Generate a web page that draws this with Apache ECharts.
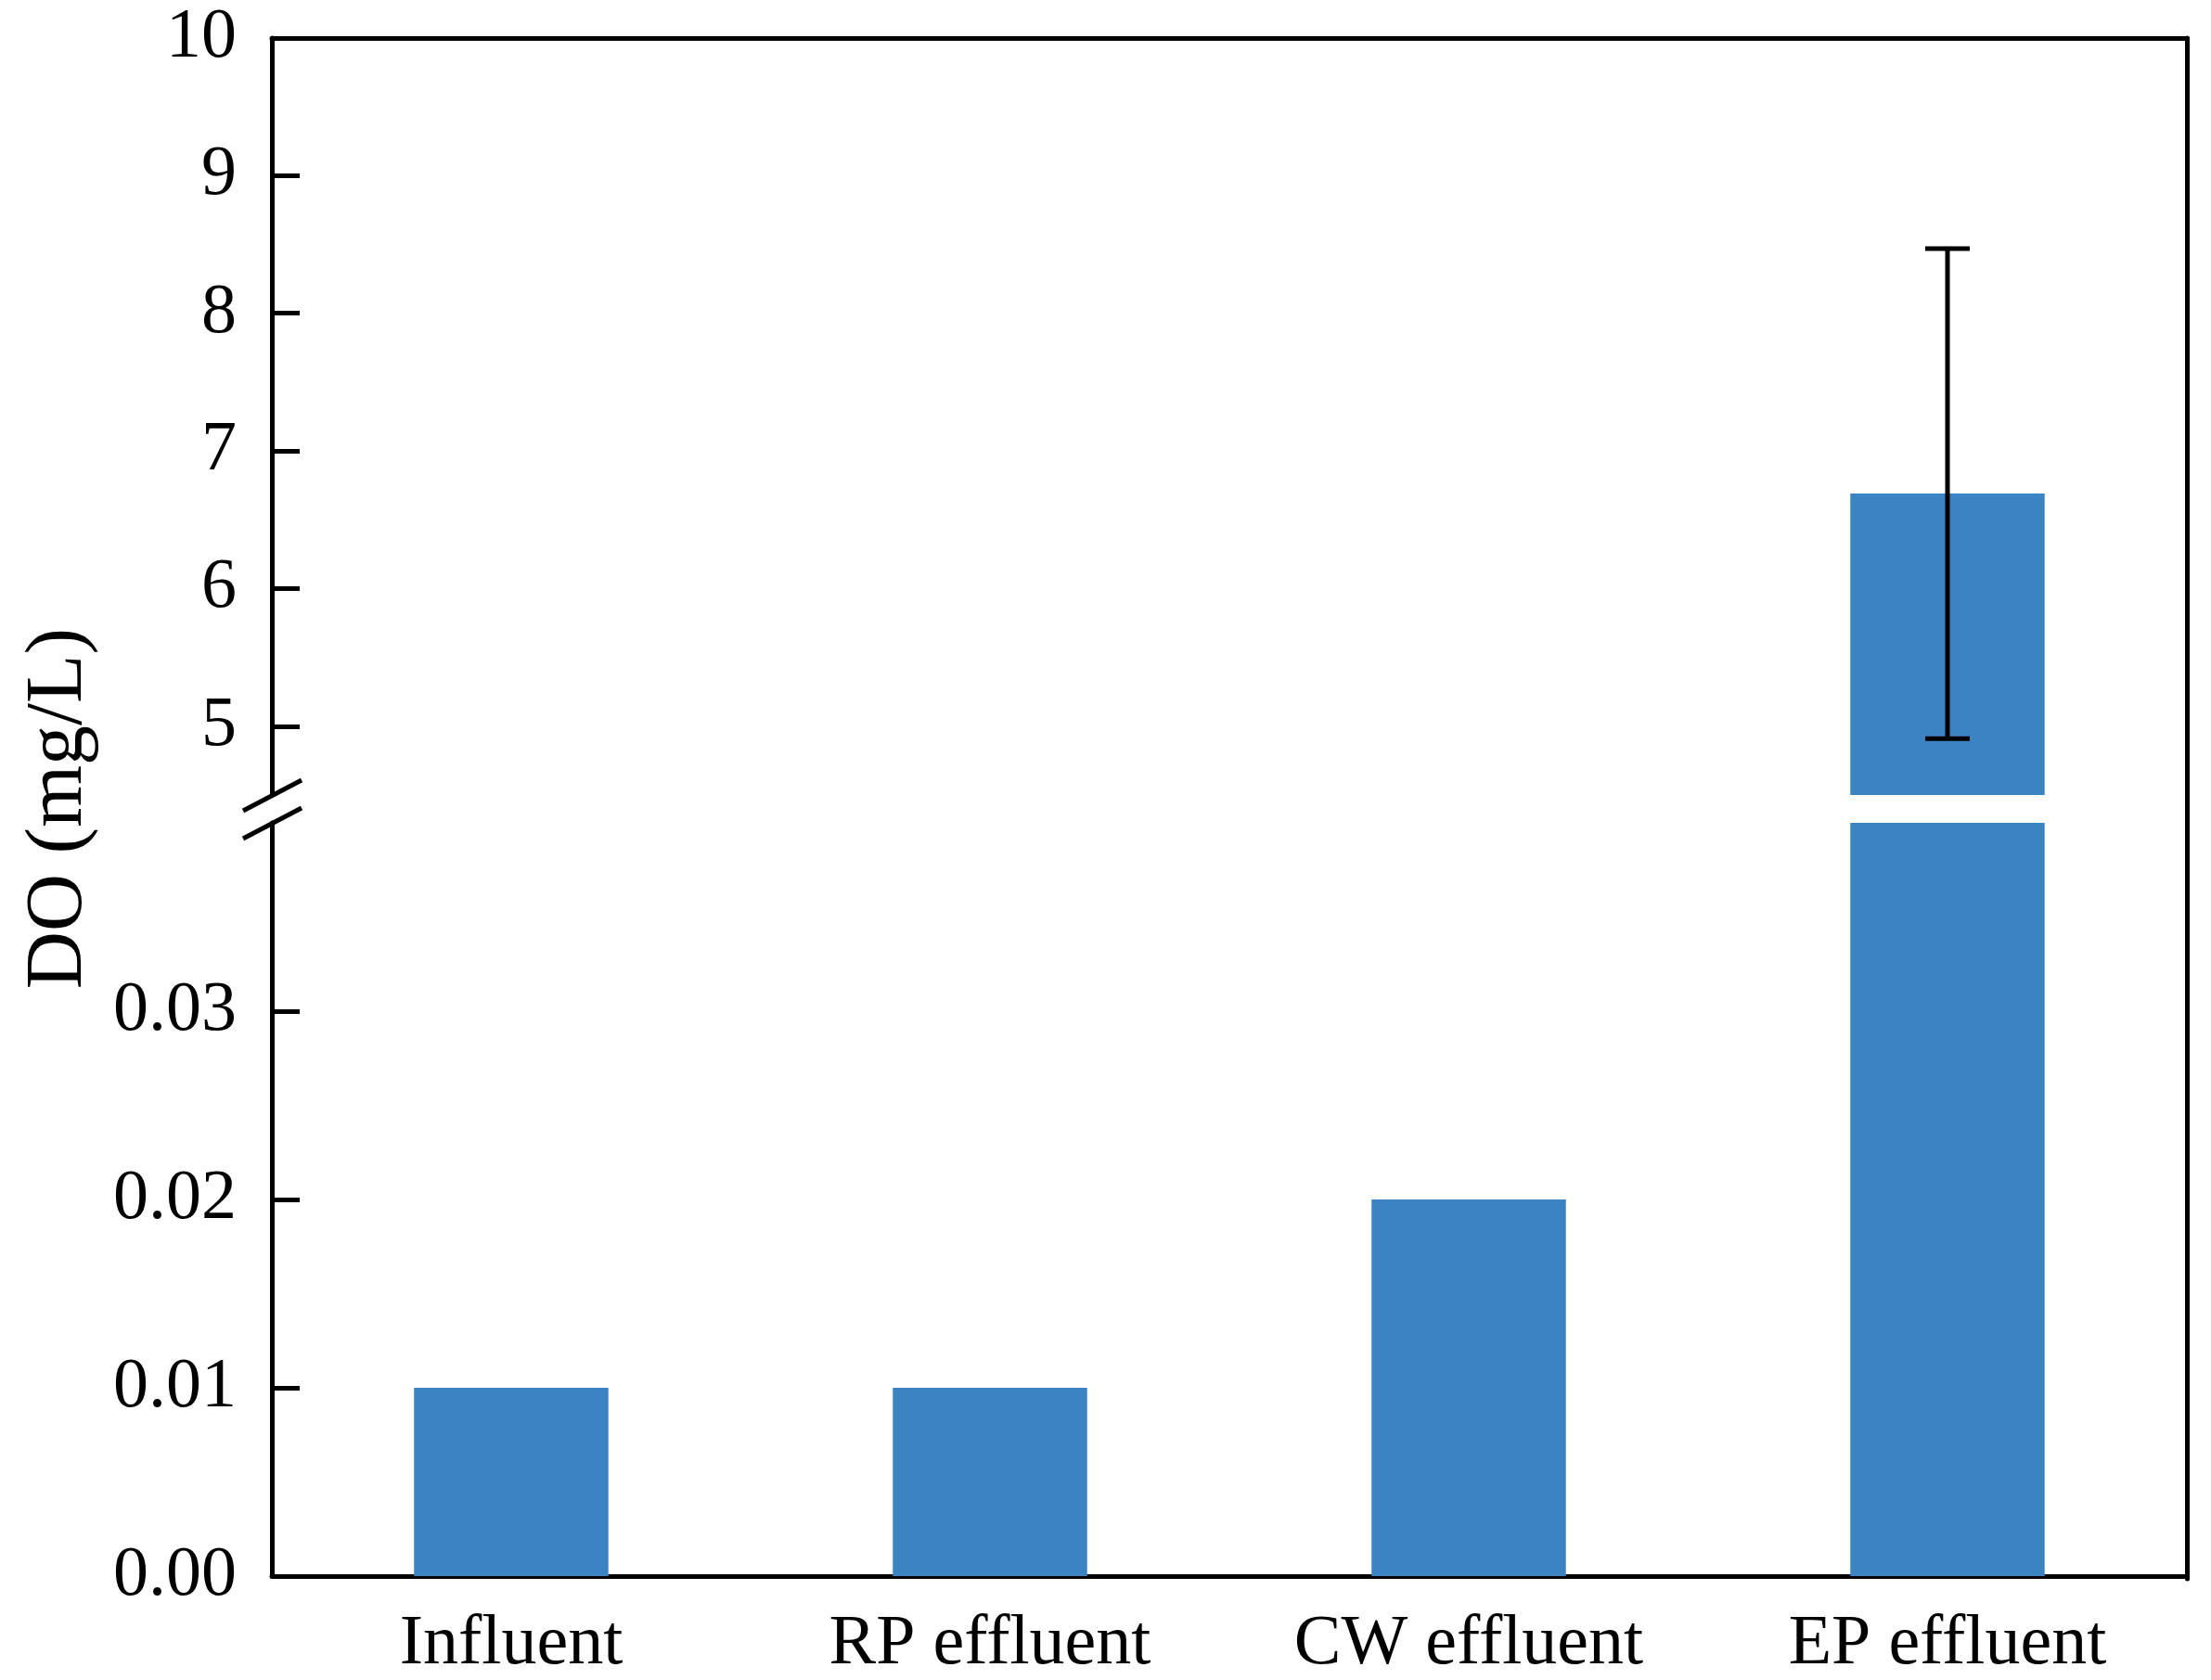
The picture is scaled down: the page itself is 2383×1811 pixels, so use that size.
<!DOCTYPE html>
<html><head><meta charset="utf-8">
<script src="https://cdn.jsdelivr.net/npm/echarts@6/dist/echarts.min.js"></script>
<style>html,body{margin:0;padding:0;background:#fff}#c{width:2383px;height:1811px}</style>
</head><body><div id="c"></div>
<script>
// ---- data ----
const categories = ['Influent', 'RP effluent', 'CW effluent', 'EP effluent'];
const doMean = [0.01, 0.01, 0.02, 6.69];
const doErr = [null, null, null, 1.78];
const upperTicks = [5, 6, 7, 8, 9, 10];
const lowerTicks = [0, 0.01, 0.02, 0.03];
const yName = 'DO (mg/L)';

// ---- layout ----
const W = 2383, H = 1811;
const L = 293, R = 2357, T = 41, B = 1702;
const upperBottom = 857, lowerTop = 887;
const FONT = "'Liberation Serif', 'Times New Roman', serif";
const BAR_COLOR = '#3b83c2';
const LW = 5;

const chart = echarts.init(document.getElementById('c'), null, {renderer: 'canvas'});

const errData = categories.map((c, i) => doErr[i] == null ? null : [i, doMean[i] - doErr[i], doMean[i] + doErr[i]]).filter(d => d);

const axisLineStyle = {show: true, lineStyle: {color: '#000', width: LW}};
const labelStyle = {color: '#000', fontSize: 76, fontFamily: FONT};

const option = {
  animation: false,
  backgroundColor: '#fff',
  grid: [
    {left: L, right: W - R, top: T, bottom: H - upperBottom},
    {left: L, right: W - R, top: lowerTop, bottom: H - B},
    {left: L, right: W - R, top: T, bottom: H - B}
  ],
  xAxis: [
    {gridIndex: 0, type: 'category', data: categories, position: 'top',
      axisLine: axisLineStyle, axisTick: {show: false}, axisLabel: {show: false}},
    {gridIndex: 1, type: 'category', data: categories, position: 'bottom',
      axisLine: axisLineStyle, axisTick: {show: false},
      axisLabel: Object.assign({margin: 36, interval: 0}, labelStyle)},
    {gridIndex: 2, type: 'category', data: categories, show: false}
  ],
  yAxis: [
    {gridIndex: 0, type: 'value', min: 4.5, max: 10,
      axisLine: axisLineStyle,
      axisTick: {show: true, inside: true, length: 30, lineStyle: {color: '#000', width: LW}, customValues: upperTicks},
      axisLabel: Object.assign({margin: 38, customValues: upperTicks}, labelStyle),
      splitLine: {show: false}},
    {gridIndex: 1, type: 'value', min: 0, max: 0.04,
      axisLine: axisLineStyle,
      axisTick: {show: true, inside: true, length: 30, lineStyle: {color: '#000', width: LW}, customValues: lowerTicks},
      axisLabel: Object.assign({margin: 38, customValues: lowerTicks, formatter: v => Number(v).toFixed(2)}, labelStyle),
      splitLine: {show: false}},
    {gridIndex: 2, type: 'value', min: 0, max: 1, position: 'right',
      axisLine: axisLineStyle, axisTick: {show: false}, axisLabel: {show: false}, splitLine: {show: false}},
    {gridIndex: 2, type: 'value', min: 0, max: 1, position: 'left',
      axisLine: {show: false}, axisTick: {show: false}, axisLabel: {show: false}, splitLine: {show: false},
      name: yName, nameLocation: 'middle', nameGap: 186,
      nameTextStyle: {color: '#000', fontSize: 86, fontFamily: FONT}}
  ],
  series: [
    {type: 'bar', xAxisIndex: 0, yAxisIndex: 0, data: doMean, barWidth: '40.6%', clip: true,
      itemStyle: {color: BAR_COLOR}},
    {type: 'bar', xAxisIndex: 1, yAxisIndex: 1, data: doMean, barWidth: '40.6%', clip: true,
      itemStyle: {color: BAR_COLOR}},
    {type: 'custom', xAxisIndex: 0, yAxisIndex: 0, data: errData, z: 10,
      renderItem: function (params, api) {
        const x = api.value(0);
        const lo = api.coord([x, api.value(1)]);
        const hi = api.coord([x, api.value(2)]);
        const hw = 24;
        const st = {stroke: '#000', lineWidth: LW};
        return {type: 'group', children: [
          {type: 'line', shape: {x1: lo[0], y1: lo[1], x2: hi[0], y2: hi[1]}, style: st},
          {type: 'line', shape: {x1: hi[0] - hw, y1: hi[1], x2: hi[0] + hw, y2: hi[1]}, style: st},
          {type: 'line', shape: {x1: lo[0] - hw, y1: lo[1], x2: lo[0] + hw, y2: lo[1]}, style: st}
        ]};
      }}
  ],
  graphic: [
    {type: 'line', z: 100, shape: {x1: L - 31, y1: upperBottom + 17, x2: L + 32, y2: upperBottom - 16},
      style: {stroke: '#000', lineWidth: LW}},
    {type: 'line', z: 100, shape: {x1: L - 31, y1: lowerTop + 17, x2: L + 32, y2: lowerTop - 16},
      style: {stroke: '#000', lineWidth: LW}}
  ]
};
chart.setOption(option);
</script>
</body></html>
